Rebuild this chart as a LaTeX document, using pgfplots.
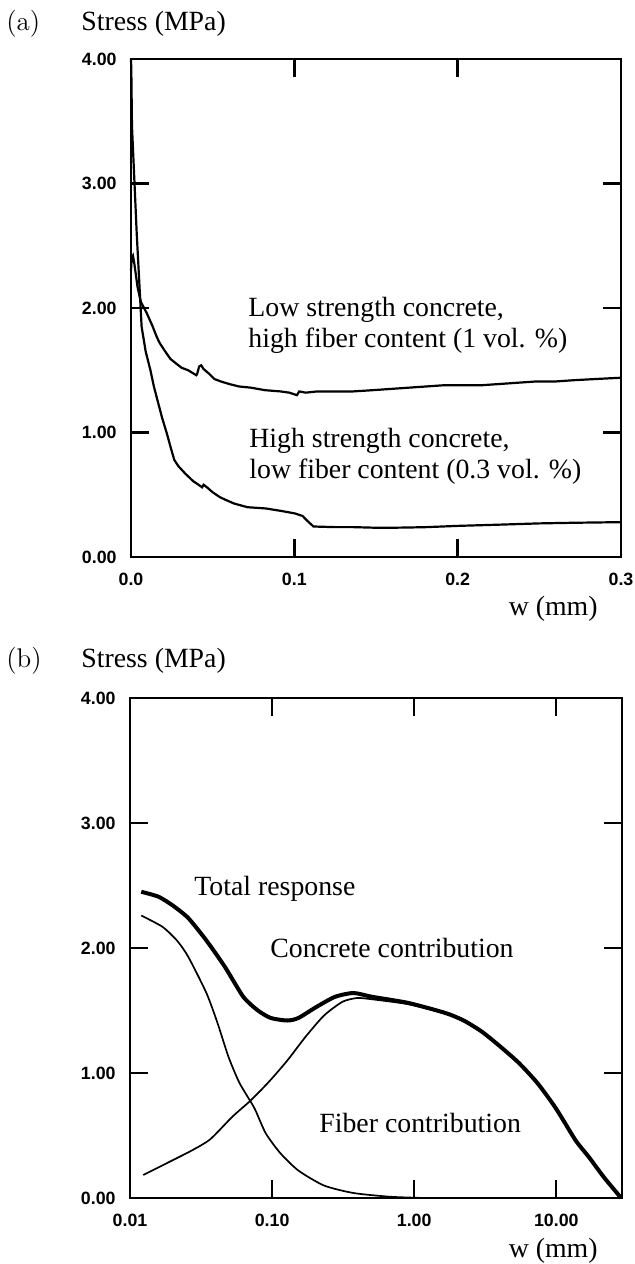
\documentclass[border=0pt]{standalone}
\usepackage{fontspec}
\usepackage{pgfplots}
\pgfplotsset{compat=1.18}
\newfontfamily\timesf{Liberation Serif}
\newfontfamily\arialf{Liberation Sans}
\newcommand{\lab}{\timesf\fontsize{13.9}{16}\selectfont}

\pgfplotsset{
  myaxis/.style={
    scale only axis,
    anchor=south west,
    clip=false,
    axis line style={line width=1.35pt},
    tick style={line width=1.2pt, black},
    major tick length=9pt,
    tick align=inside,
    xtick pos=both, ytick pos=both,
    ymin=0, ymax=4,
    ytick={0,1,2,3,4},
    yticklabels={0.00,1.00,2.00,3.00,4.00},
    tick label style={font=\arialf\bfseries\fontsize{8.9}{10}\selectfont, inner sep=0pt},
    yticklabel style={anchor=east, xshift=-7pt},
    xticklabel style={anchor=north, yshift=-7.8pt},
  }
}

\begin{document}
\begin{tikzpicture}
\useasboundingbox (0,0) rectangle (317.5pt,-632pt);

% ---------------- Panel (a) ----------------
\begin{axis}[myaxis,
  at={(65.5pt,-278.5pt)}, width=245pt, height=249pt,
  xmin=0, xmax=0.3,
  xtick={0,0.1,0.2,0.3},
  xticklabels={0.0,0.1,0.2,0.3},
]
% Low strength concrete, high fiber content (1 vol. %)
\addplot[black, line width=1.1pt] coordinates {
(0,2.30) (0.0004,2.40) (0.0012,2.42) (0.002,2.36) (0.004,2.17) (0.006,2.05)
(0.0096,1.96) (0.013,1.86) (0.0157,1.77) (0.0175,1.72) (0.021,1.65)
(0.0242,1.59) (0.028,1.55) (0.031,1.52) (0.035,1.50) (0.040,1.46)
(0.0405,1.47) (0.0417,1.53) (0.043,1.54) (0.0444,1.51) (0.048,1.47)
(0.051,1.43) (0.055,1.41) (0.060,1.39) (0.066,1.37) (0.0735,1.36)
(0.082,1.34) (0.0915,1.33) (0.097,1.32) (0.1016,1.30) (0.103,1.33)
(0.107,1.32) (0.114,1.33) (0.125,1.33) (0.136,1.33) (0.148,1.34)
(0.159,1.35) (0.170,1.36) (0.181,1.37) (0.192,1.38) (0.2036,1.38)
(0.215,1.38) (0.226,1.39) (0.237,1.40) (0.248,1.41) (0.26,1.41)
(0.271,1.42) (0.285,1.43) (0.3,1.44)
};
% High strength concrete, low fiber content (0.3 vol. %)
\addplot[black, line width=1.1pt] coordinates {
(0,4.0) (0.0002,3.9) (0.0006,3.46) (0.0035,2.60) (0.0065,1.85) (0.009,1.65)
(0.0119,1.50) (0.0140,1.37) (0.0164,1.25) (0.019,1.12) (0.022,0.99)
(0.0245,0.87) (0.0265,0.78) (0.029,0.73) (0.0332,0.67) (0.038,0.61)
(0.0425,0.57) (0.0435,0.56) (0.0445,0.58) (0.0465,0.56) (0.050,0.52)
(0.0545,0.48) (0.0578,0.46) (0.063,0.43) (0.0713,0.40) (0.0825,0.39)
(0.092,0.37) (0.1004,0.35) (0.105,0.33) (0.108,0.29) (0.1117,0.245)
(0.125,0.24) (0.136,0.24) (0.15,0.235) (0.159,0.235) (0.17,0.237)
(0.181,0.24) (0.2,0.25) (0.226,0.26) (0.25,0.27) (0.271,0.275) (0.3,0.28)
};
\end{axis}

% ---------------- Panel (b) ----------------
\begin{axis}[myaxis,
  at={(65pt,-599pt)}, width=246pt, height=250pt,
  xmode=log, xmin=0.01, xmax=29,
  xtick={0.01,0.1,1,10},
  xticklabels={0.01,0.10,1.00,10.00},
  xminorticks=false,
]
% Total response
\addplot[black, line width=2pt, smooth, tension=0.4] coordinates {
(0.012,2.45) (0.0159,2.41) (0.02,2.34) (0.0257,2.24) (0.0345,2.06)
(0.0465,1.85) (0.0627,1.61) (0.0795,1.50) (0.098,1.44) (0.128,1.42)
(0.153,1.44) (0.206,1.53) (0.278,1.61) (0.374,1.64) (0.504,1.61)
(0.914,1.56) (1.66,1.48) (2.23,1.42) (3.0,1.33) (4.05,1.21) (5.46,1.08)
(7.36,0.92) (9.9,0.72) (13.7,0.46) (16.9,0.33) (21.5,0.17) (27.2,0.03) (28.5,0.0)
};
% Fiber contribution
\addplot[black, line width=0.85pt, smooth, tension=0.4] coordinates {
(0.012,2.26) (0.0169,2.17) (0.0214,2.06) (0.0257,1.93) (0.0345,1.64)
(0.0413,1.40) (0.0493,1.13) (0.059,0.92) (0.075,0.72) (0.09,0.52)
(0.114,0.36) (0.153,0.22) (0.232,0.10) (0.374,0.04) (0.68,0.01) (1.2,0.0)
};
% Concrete contribution
\addplot[black, line width=0.85pt, smooth, tension=0.4] coordinates {
(0.0124,0.184) (0.019,0.29) (0.0272,0.38) (0.0367,0.47) (0.0525,0.65)
(0.0706,0.78) (0.095,0.93) (0.128,1.10) (0.172,1.29) (0.232,1.46)
(0.313,1.57) (0.397,1.60) (0.504,1.59) (0.914,1.55) (1.66,1.475) (2.23,1.415)
};
\end{axis}

% ---------------- Texts ----------------
\begin{scope}[x=0.5pt,y=-0.5pt, every node/.style={inner sep=0pt}]
\node[anchor=base west, font=\fontsize{13.5}{16}\selectfont] at (6,30) {(a)};
\node[anchor=base west, font=\lab] at (81,30) {Stress (MPa)};
\node[anchor=base east, font=\lab] at (598,615) {w (mm)};
\node[anchor=base west, font=\lab] at (248,316) {Low strength concrete,};
\node[anchor=base west, font=\lab] at (248,347) {high fiber content (1 vol. \%)};
\node[anchor=base west, font=\lab] at (249,447) {High strength concrete,};
\node[anchor=base west, font=\lab] at (249,478) {low fiber content (0.3 vol. \%)};

\node[anchor=base west, font=\fontsize{13.5}{16}\selectfont] at (6,667) {(b)};
\node[anchor=base west, font=\lab] at (81,667) {Stress (MPa)};
\node[anchor=base east, font=\lab] at (598,1257) {w (mm)};
\node[anchor=base west, font=\lab] at (194,895) {Total response};
\node[anchor=base west, font=\lab] at (270,957) {Concrete contribution};
\node[anchor=base west, font=\lab] at (319,1132) {Fiber contribution};
\end{scope}
\end{tikzpicture}
\end{document}
